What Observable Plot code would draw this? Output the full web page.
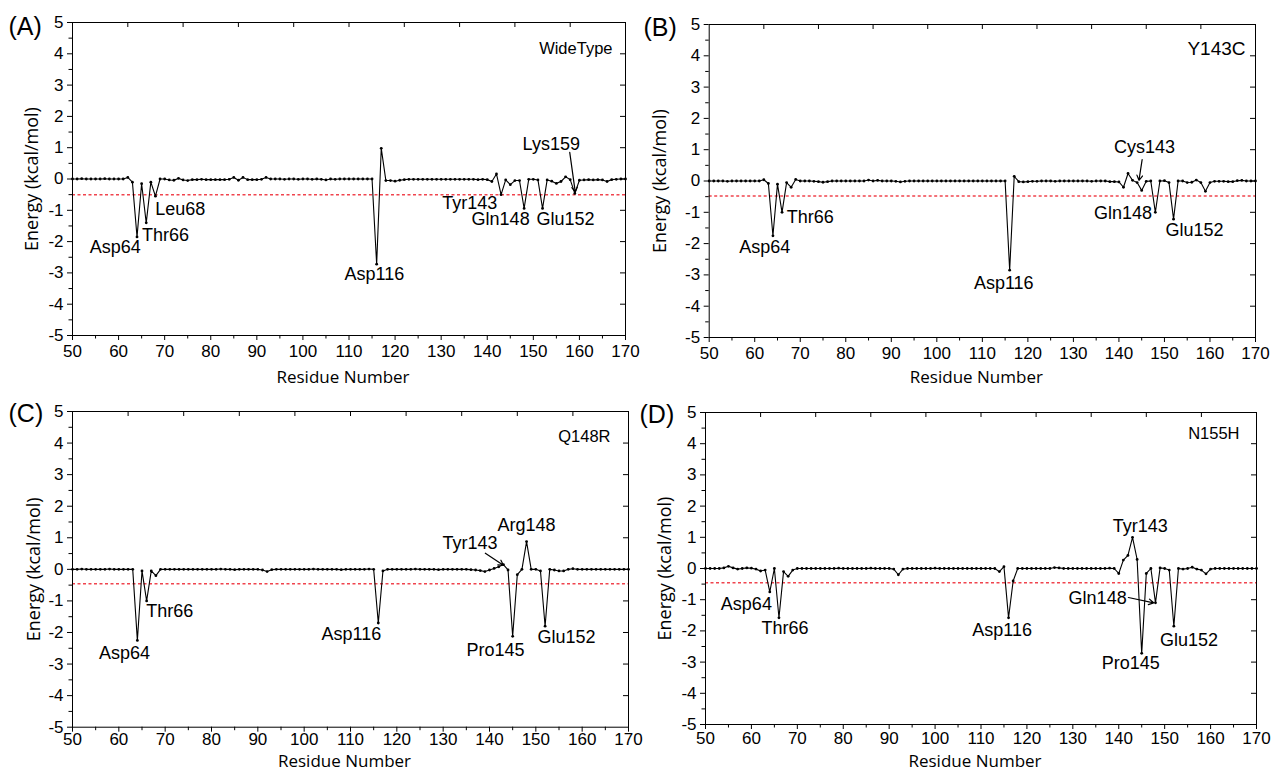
<!DOCTYPE html>
<html>
<head>
<meta charset="utf-8">
<script src="https://cdn.jsdelivr.net/npm/d3@7"></script>
<script src="https://cdn.jsdelivr.net/npm/@observablehq/plot@0.6"></script>
<style>
html, body { margin: 0; padding: 0; background: #fff; }
#root { position: relative; width: 1272px; height: 772px; overflow: hidden; background: #fff; }
.panel { position: absolute; }
</style>
</head>
<body>
<div id="root"></div>
<script>
// ---------- DATA ----------
const residues = d3.range(50, 171); // residue numbers 50..170

const xTicks = [50, 60, 70, 80, 90, 100, 110, 120, 130, 140, 150, 160, 170];
const xMinorTicks = [55, 65, 75, 85, 95, 105, 115, 125, 135, 145, 155, 165];
const xTopTicks = [62, 74, 86, 98, 110, 122, 134, 146, 158];
const yTicks = [-5, -4, -3, -2, -1, 0, 1, 2, 3, 4, 5];
const yMinorTicks = [-4.5, -3.5, -2.5, -1.5, -0.5, 0.5, 1.5, 2.5, 3.5, 4.5];
const yRightTicks = [-4, -3, -2, -1, 0, 1, 2, 3, 4];

const panelLetters = ["(A)", "(B)", "(C)", "(D)"];
const panelNames = ["WideType", "Y143C", "Q148R", "N155H"];
const thresholds = [-0.5, -0.48, -0.46, -0.46];

// Energy per residue (50..170), kcal/mol
const energyWT = [
  0.00, 0.00, 0.01, 0.00, 0.00, 0.00, 0.00, 0.01, 0.00, 0.00,
  0.00, 0.00, 0.05, -0.10, -1.85, -0.15, -1.40, -0.10, -0.55, 0.00,
  0.00, -0.03, -0.04, 0.02, -0.03, -0.05, -0.02, -0.02, -0.01, -0.02,
  -0.02, -0.02, -0.02, -0.02, -0.01, 0.05, -0.04, 0.05, -0.02, -0.02,
  -0.02, -0.01, 0.05, 0.00, 0.00, 0.00, -0.01, 0.00, 0.00, -0.01,
  0.00, 0.00, -0.01, 0.00, -0.01, -0.03, 0.00, -0.01, 0.00, 0.00,
  0.00, 0.00, 0.00, 0.00, 0.00, 0.00, -2.72, 0.98, -0.05, -0.05,
  -0.07, -0.04, -0.02, -0.01, -0.01, -0.01, -0.01, -0.01, -0.01, -0.01,
  -0.01, -0.01, -0.01, -0.01, -0.01, -0.01, -0.01, -0.01, -0.02, -0.01,
  -0.02, -0.08, 0.16, -0.50, -0.03, -0.18, -0.05, -0.05, -0.94, -0.01,
  -0.01, -0.03, -0.94, -0.03, -0.07, -0.14, -0.08, 0.07, -0.02, -0.46,
  -0.04, -0.03, -0.02, -0.03, -0.02, -0.03, -0.08, -0.02, -0.01, 0.00,
  0.00
];
const energyY143C = [
  0.00, 0.00, 0.00, 0.00, -0.01, 0.00, 0.00, 0.00, 0.00, 0.00,
  0.00, 0.00, 0.04, -0.08, -1.75, -0.10, -1.00, -0.05, -0.20, 0.05,
  0.00, 0.00, 0.00, -0.01, -0.02, -0.04, -0.02, 0.00, 0.00, 0.00,
  0.00, 0.00, 0.00, 0.00, 0.00, 0.03, 0.00, 0.02, 0.00, 0.00,
  0.00, -0.01, -0.03, -0.01, 0.00, 0.00, 0.00, 0.00, 0.00, 0.00,
  0.00, 0.00, 0.00, 0.00, 0.00, 0.00, 0.00, 0.00, 0.00, 0.00,
  0.00, 0.00, 0.00, 0.00, 0.00, 0.00, -2.85, 0.15, -0.02, -0.03,
  -0.02, -0.01, -0.01, 0.00, 0.00, 0.00, -0.01, 0.00, 0.00, 0.00,
  0.00, 0.00, 0.00, 0.00, -0.01, 0.00, 0.00, 0.00, -0.02, -0.02,
  -0.03, -0.20, 0.24, 0.02, -0.05, -0.30, -0.01, 0.00, -1.00, 0.00,
  0.01, -0.05, -1.22, 0.00, 0.00, -0.05, -0.04, 0.03, -0.05, -0.33,
  -0.05, -0.01, -0.01, -0.01, -0.02, -0.02, 0.01, 0.02, 0.00, 0.00,
  0.00
];
const energyQ148R = [
  0.00, 0.00, 0.01, 0.00, 0.00, 0.00, 0.00, 0.00, 0.01, 0.00,
  0.00, 0.00, 0.00, 0.00, -2.25, -0.05, -1.00, -0.05, -0.20, 0.00,
  0.00, 0.00, 0.00, 0.00, 0.00, 0.00, 0.00, 0.00, 0.00, 0.00,
  0.00, 0.00, 0.01, 0.00, 0.00, -0.01, 0.00, 0.00, 0.00, 0.00,
  0.00, -0.02, -0.07, -0.01, 0.00, 0.00, 0.00, 0.00, 0.00, 0.00,
  0.00, 0.00, 0.01, 0.00, 0.00, 0.00, 0.00, 0.00, -0.01, 0.00,
  0.00, 0.00, 0.00, 0.00, 0.01, 0.00, -1.70, -0.05, 0.00, 0.00,
  0.00, 0.00, 0.00, 0.00, 0.01, 0.00, 0.00, 0.00, 0.00, -0.01,
  0.00, 0.00, 0.00, 0.00, 0.00, 0.00, -0.01, -0.02, -0.04, -0.07,
  -0.02, 0.03, 0.08, 0.15, -0.02, -2.12, -0.17, 0.00, 0.88, 0.00,
  0.00, -0.05, -1.80, 0.00, -0.02, -0.05, -0.05, 0.00, 0.02, 0.00,
  0.00, 0.00, 0.00, 0.00, 0.00, 0.00, 0.00, 0.00, 0.00, 0.00,
  0.00
];
const energyN155H = [
  0.00, 0.00, 0.00, 0.00, 0.02, 0.07, 0.02, -0.02, 0.00, 0.02,
  0.01, -0.02, -0.08, -0.05, -0.75, 0.00, -1.58, -0.10, -0.25, -0.05,
  0.00, 0.00, 0.00, 0.00, 0.00, 0.00, 0.00, 0.00, 0.00, 0.01,
  0.00, 0.00, 0.00, 0.00, 0.00, 0.00, 0.01, 0.00, 0.00, 0.00,
  0.00, -0.02, -0.20, -0.02, 0.00, 0.00, 0.00, 0.00, 0.00, 0.00,
  0.01, 0.00, 0.00, 0.00, 0.00, 0.00, 0.00, 0.00, 0.00, 0.00,
  0.00, 0.00, 0.00, 0.00, -0.10, 0.06, -1.58, -0.40, 0.00, 0.00,
  0.00, 0.00, 0.00, 0.00, 0.00, 0.00, 0.03, 0.02, 0.00, 0.00,
  0.00, 0.00, 0.00, 0.00, 0.00, 0.00, 0.00, 0.00, 0.01, 0.00,
  -0.16, 0.27, 0.42, 1.00, 0.29, -2.72, -0.16, 0.00, -1.10, 0.02,
  0.00, -0.05, -1.85, 0.00, -0.02, 0.00, 0.04, -0.02, -0.05, -0.17,
  -0.02, 0.00, 0.00, 0.00, 0.00, 0.00, 0.00, 0.00, 0.00, 0.00,
  0.00
];

// Residue labels (text placed at residue / energy coordinates)
const labelsWT = [
  {text: "Asp64", x: 59.3, y: -2.18}, {text: "Thr66", x: 70.2, y: -1.80},
  {text: "Leu68", x: 73.4, y: -0.95}, {text: "Asp116", x: 115.5, y: -3.05},
  {text: "Tyr143", x: 136.2, y: -0.76}, {text: "Gln148", x: 142.9, y: -1.30},
  {text: "Glu152", x: 157.0, y: -1.30}, {text: "Lys159", x: 153.9, y: 1.12}
];
const labelsY143C = [
  {text: "Asp64", x: 62.2, y: -2.12}, {text: "Thr66", x: 72.2, y: -1.16},
  {text: "Asp116", x: 114.7, y: -3.27}, {text: "Cys143", x: 145.6, y: 1.08},
  {text: "Gln148", x: 140.9, y: -1.02}, {text: "Glu152", x: 156.6, y: -1.58}
];
const labelsQ148R = [
  {text: "Asp64", x: 61.2, y: -2.66}, {text: "Thr66", x: 71.0, y: -1.34},
  {text: "Asp116", x: 110.2, y: -2.07}, {text: "Tyr143", x: 135.8, y: 0.83},
  {text: "Arg148", x: 148.0, y: 1.41}, {text: "Pro145", x: 141.3, y: -2.55},
  {text: "Glu152", x: 156.6, y: -2.15}
];
const labelsN155H = [
  {text: "Asp64", x: 58.9, y: -1.16}, {text: "Thr66", x: 67.3, y: -1.91},
  {text: "Asp116", x: 114.6, y: -1.97}, {text: "Tyr143", x: 144.7, y: 1.35},
  {text: "Gln148", x: 135.4, y: -0.95}, {text: "Pro145", x: 142.6, y: -3.05},
  {text: "Glu152", x: 155.3, y: -2.29}
];

// Leader arrows (residue / energy coordinates)
const arrowsWT = [{x1: 157.9, y1: 0.85, x2: 159.1, y2: -0.42}];
const arrowsY143C = [{x1: 145.1, y1: 0.68, x2: 144.4, y2: 0.02}];
const arrowsQ148R = [{x1: 139.1, y1: 0.51, x2: 143.0, y2: 0.13}];
const arrowsN155H = [{x1: 142.1, y1: -0.93, x2: 147.6, y2: -1.10}];

const energies = [energyWT, energyY143C, energyQ148R, energyN155H];
const labels = [labelsWT, labelsY143C, labelsQ148R, labelsN155H];
const arrows = [arrowsWT, arrowsY143C, arrowsQ148R, arrowsN155H];

// ---------- LAYOUT (styles) ----------
const layouts = [
  {left: 0,   top: 0,   m: {top: 22, right: 11, bottom: 51, left: 72},   pad: 4, nameDx: -13, nameDy: 26, nameSize: 16.5, letterDx: -64,  letterDy: 4, yTitleDx: -40, xTitleDy: 47},
  {left: 636, top: 0,   m: {top: 24, right: 17, bottom: 49, left: 72.7}, pad: 4, nameDx: -10, nameDy: 24, nameSize: 19,   letterDx: -65.7,letterDy: 3, yTitleDx: -48.7, xTitleDy: 45},
  {left: 0,   top: 386, m: {top: 25, right: 8,  bottom: 45.3, left: 72}, pad: 1, nameDx: -18, nameDy: 25, nameSize: 16.5, letterDx: -64,  letterDy: 2, yTitleDx: -38.7, xTitleDy: 40},
  {left: 636, top: 386, m: {top: 26, right: 16, bottom: 48, left: 69},   pad: 2, nameDx: -17, nameDy: 21, nameSize: 16.5, letterDx: -66,  letterDy: 2, yTitleDx: -40.7, xTitleDy: 42.5}
];

const W = 636, H = 386;
const tickFont = "'Liberation Sans', Arial, sans-serif";
const titleFont = "'Open Sans', 'Liberation Sans', Arial, sans-serif";

function makePanel(i) {
  const L = layouts[i];
  const data = residues.map((r, k) => ({residue: r, energy: energies[i][k]}));
  const plotW = W - L.m.left - L.m.right;
  const plotH = H - L.m.top - L.m.bottom;
  const fmt = d => String(d);
  return Plot.plot({
    width: W,
    height: H,
    marginTop: L.m.top, marginRight: L.m.right, marginBottom: L.m.bottom, marginLeft: L.m.left,
    style: {fontFamily: tickFont, fontSize: "17px", color: "black", background: "transparent", overflow: "visible"},
    x: {domain: [50, 170], axis: null},
    y: {domain: [-5, 5], axis: null},
    marks: [
      Plot.ruleY([thresholds[i]], {stroke: "#f0444e", strokeWidth: 1.5, strokeDasharray: "3,2.5"}),
      Plot.line(data, {x: "residue", y: "energy", stroke: "black", strokeWidth: 1.1}),
      Plot.dot(data, {x: "residue", y: "energy", r: 1.4, fill: "black", stroke: "none"}),
      Plot.arrow(arrows[i], {x1: "x1", y1: "y1", x2: "x2", y2: "y2", stroke: "black", strokeWidth: 1.2, headLength: 7}),
      Plot.text(labels[i], {x: "x", y: "y", text: "text", fontSize: 18, fontFamily: tickFont, fill: "black", textAnchor: "middle", lineAnchor: "middle"}),
      // axes
      Plot.axisX({ticks: xTicks, tickSize: 5, tickPadding: L.pad, tickFormat: fmt, label: null, fontSize: 17}),
      Plot.axisX({ticks: xMinorTicks, tickSize: 3.5, tickFormat: () => "", label: null}),
      Plot.axisY({ticks: yTicks, tickSize: 5, tickPadding: 4, tickFormat: fmt, label: null, fontSize: 17}),
      Plot.axisY({ticks: yMinorTicks, tickSize: 3.5, tickFormat: () => "", label: null}),
      Plot.tickX(xTopTicks, {x: d => d, insetBottom: plotH - 5, stroke: "black"}),
      Plot.tickY(yRightTicks, {y: d => d, insetLeft: plotW - 5, stroke: "black"}),
      Plot.frame({stroke: "black", strokeWidth: 1}),
      // titles
      Plot.text(["Energy (kcal/mol)"], {frameAnchor: "left", dx: L.yTitleDx, rotate: -90, text: d => d, textAnchor: "middle", lineAnchor: "middle", fontSize: 18, fontFamily: titleFont, fill: "black"}),
      Plot.text(["Residue Number"], {frameAnchor: "bottom", dx: -6, dy: L.xTitleDy, text: d => d, textAnchor: "middle", lineAnchor: "bottom", fontSize: 17, fontFamily: titleFont, fill: "black"}),
      Plot.text([panelNames[i]], {frameAnchor: "top-right", dx: L.nameDx, dy: L.nameDy, text: d => d, textAnchor: "end", lineAnchor: "middle", fontSize: L.nameSize, fontFamily: tickFont, fill: "black"}),
      Plot.text([panelLetters[i]], {frameAnchor: "top-left", dx: L.letterDx, dy: L.letterDy, text: d => d, textAnchor: "start", lineAnchor: "middle", fontSize: 25, fontFamily: tickFont, fill: "black"})
    ]
  });
}

const root = document.getElementById("root");
for (let i = 0; i < 4; i++) {
  const div = document.createElement("div");
  div.className = "panel";
  div.style.left = layouts[i].left + "px";
  div.style.top = layouts[i].top + "px";
  div.appendChild(makePanel(i));
  root.appendChild(div);
}
</script>
</body>
</html>
